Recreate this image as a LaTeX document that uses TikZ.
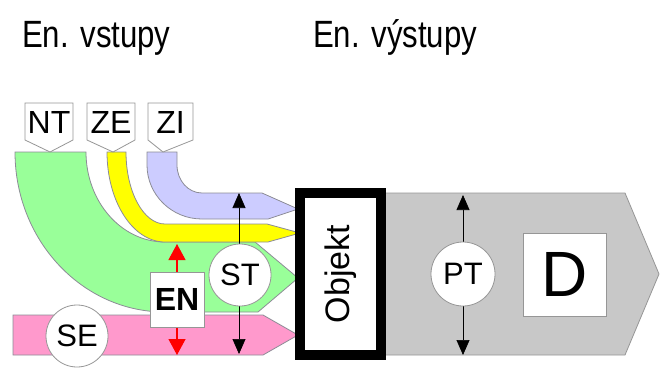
\documentclass[tikz,border=0pt]{standalone}
\usepackage{fontspec}
\setmainfont{Liberation Sans}
\usetikzlibrary{arrows.meta}
\definecolor{bandline}{RGB}{140,140,150}
\definecolor{greenband}{RGB}{153,255,153}
\definecolor{yellowband}{RGB}{255,255,0}
\definecolor{lavband}{RGB}{204,204,255}
\definecolor{pinkband}{RGB}{255,153,204}
\definecolor{greyband}{RGB}{200,200,200}
\definecolor{greyline}{RGB}{150,150,150}
\tikzset{
  band/.style={draw=bandline, line width=0.8pt},
  tag/.style={draw=greyline, fill=white, line width=0.8pt},
  tagtext/.style={font=\fontsize{32}{34}\selectfont, inner sep=0pt},
  title/.style={anchor=base west, inner sep=0pt, font=\fontsize{38}{40}\selectfont},
  disc/.style={circle, draw=greyline, fill=white, line width=0.8pt, minimum size=62pt, inner sep=0pt, font=\fontsize{31}{33}\selectfont},
  squarebox/.style={rectangle, draw=greyline, fill=white, line width=0.8pt, inner sep=0pt},
  twoway/.style={line width=0.7pt, {Triangle[length=15pt,width=13pt]}-{Triangle[length=15pt,width=13pt]}},
  redway/.style={line width=1.2pt, red, {Triangle[length=16pt,width=17pt]}-{Triangle[length=16pt,width=17pt]}},
}
\begin{document}
\begin{tikzpicture}[x=1pt, y=-1pt]
\useasboundingbox (0,0) rectangle (660,367);

% headings
\node[title] (inputs) at (22,47) {\scalebox{0.82}[1]{En. vstupy}};
\node[title] (outputs) at (313,47) {\scalebox{0.82}[1]{En. výstupy}};

% output band
\fill[greyband, draw=greyline, line width=0.8pt]
  (380,193) -- (625,193) -- (659,274) -- (625,355) -- (380,355) -- cycle;

% SE band
\path[band, fill=pinkband]
  (13,315) -- (263,315) -- (298,335) -- (263,355) -- (13,355) -- cycle;

% NT band
\path[band, fill=greenband]
  (15,152) -- (86,152)
  .. controls (86,201.7) and (121.4,242) .. (165,242)
  -- (255,242) -- (298,278) -- (258,312) -- (165,312)
  .. controls (82.2,312) and (15,240.4) .. (15,152) -- cycle;

% ZE band
\path[band, fill=yellowband]
  (107,152) -- (126,152)
  .. controls (126,191.8) and (143.5,224) .. (165,224)
  -- (267,224) -- (300,233) -- (268,242) -- (165,242)
  .. controls (133,242) and (107,201.7) .. (107,152) -- cycle;

% ZI band
\path[band, fill=lavband]
  (147,152) -- (177,152) -- (177,165)
  .. controls (177,180.5) and (188.2,193) .. (202,193)
  -- (262,193) -- (298,209) -- (268,219) -- (202,219)
  .. controls (171.6,219) and (147,194.8) .. (147,165) -- cycle;

% input tags
\path[tag] (25,103) -- (73,103) -- (73,140) -- (50,152) -- (25,140) -- cycle;
\path[tag] (87,103) -- (135,103) -- (135,140) -- (113,152) -- (87,140) -- cycle;
\path[tag] (148,103) -- (193,103) -- (193,140) -- (163,152) -- (148,140) -- cycle;
\node[tagtext] (nt) at (49,122) {NT};
\node[tagtext] (ze) at (111,122) {ZE};
\node[tagtext] (zi) at (170.5,122) {ZI};

% arrows across the input bands
\coordinate (entop) at (177,244);
\coordinate (enbot) at (177,355);
\draw[redway] (entop) -- (enbot);
\coordinate (sttop) at (239,193);
\coordinate (stbot) at (239,354);
\draw[twoway, black] (sttop) -- (stbot);
\coordinate (pttop) at (463,195);
\coordinate (ptbot) at (463,355);
\draw[twoway, black] (pttop) -- (ptbot);

% labels
\node[disc] (se) at (77,336) {SE};
\node[disc] (st) at (240,275) {ST};
\node[disc, minimum size=64pt] (pt) at (463,274) {PT};
\node[squarebox, minimum width=54pt, minimum height=55pt, font=\fontsize{32}{34}\selectfont\bfseries] (en) at (177,299.5) {EN};
\node[squarebox, minimum width=83pt, minimum height=83pt, font=\fontsize{64}{66}\selectfont] (d) at (564.5,274.5) {D};

% object
\node[rectangle, draw=black, fill=white, line width=10pt, minimum width=81pt, minimum height=162pt, inner sep=0pt] (obj) at (340.5,274) {};
\node[rotate=90, inner sep=0pt, font=\fontsize{34}{36}\selectfont] (objtext) at (obj.center) {Objekt};
\end{tikzpicture}
\end{document}
